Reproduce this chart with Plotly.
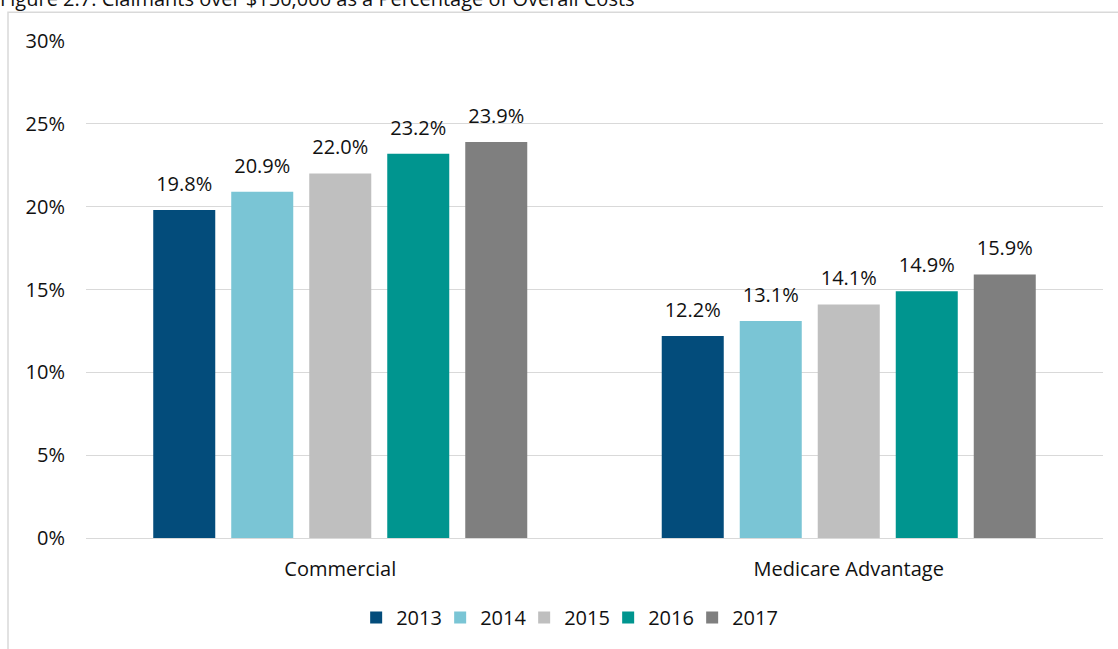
import plotly.graph_objects as go

categories = ["Commercial", "Medicare Advantage"]
years = ["2013", "2014", "2015", "2016", "2017"]
values = {
    "2013": [19.8, 12.2],
    "2014": [20.9, 13.1],
    "2015": [22.0, 14.1],
    "2016": [23.2, 14.9],
    "2017": [23.9, 15.9],
}
colors = ["#034C7B", "#7AC5D5", "#BFBFBF", "#00958F", "#7F7F7F"]
tick_vals = [0, 5, 10, 15, 20, 25, 30]
tick_text = ["0%", "5%", "10%", "15%", "20%", "25%", "30%"]
title_text = "Figure 2.7: Claimants over $150,000 as a Percentage of Overall Costs"

FONT = "Open Sans"
FS = 20
TXT = "#111111"

fig = go.Figure()
for i, (yr, col) in enumerate(zip(years, colors)):
    fig.add_trace(go.Bar(
        x=categories, y=values[yr], name=yr,
        marker=dict(color=col, line=dict(width=0)),
        offsetgroup=yr, legendgroup=yr, hoverinfo="skip",
        legendwidth=55 if i == len(years) - 1 else None,
    ))
for yr in years:
    fig.add_trace(go.Scatter(
        x=categories, y=values[yr], mode="markers+text",
        text=[f"{v:.1f}%" for v in values[yr]], textposition="top center",
        textfont=dict(family=FONT, size=FS, color=TXT),
        marker=dict(size=21, color="rgba(0,0,0,0)"),
        offsetgroup=yr, legendgroup=yr, showlegend=False, hoverinfo="skip",
        cliponaxis=False,
    ))

fig.update_layout(
    width=1118, height=649,
    margin=dict(l=86, r=15, t=41, b=109),
    paper_bgcolor="white", plot_bgcolor="white",
    barmode="group", bargap=0.233, bargroupgap=0.205,
    scattermode="group", scattergap=0.233,
    font=dict(family=FONT, size=FS, color=TXT),
    showlegend=True,
    legend=dict(orientation="h", x=0.48, xanchor="center", y=-0.16, yanchor="middle",
                font=dict(family=FONT, size=FS, color=TXT), itemclick=False,
                traceorder="normal", entrywidth=39, entrywidthmode="pixels"),
    xaxis=dict(showgrid=False, showline=False, ticks="", tickfont=dict(size=FS, color=TXT),
               ticklabelstandoff=17),
    yaxis=dict(range=[0, 30], tickvals=tick_vals, ticktext=tick_text, showgrid=True,
               gridcolor="#D9D9D9", gridwidth=1, zeroline=True, zerolinecolor="#D9D9D9",
               zerolinewidth=1, showline=False, ticks="", tickfont=dict(size=FS, color=TXT),
               ticklabelstandoff=20),
    shapes=[dict(type="rect", xref="paper", yref="paper",
                 x0=-0.0767, x1=1.05, y0=-0.4, y1=1.058,
                 line=dict(color="#D9D9D9", width=1.5), fillcolor="rgba(0,0,0,0)", layer="below")],
    annotations=[dict(text=title_text, xref="paper", yref="paper", x=-0.0865, y=1.0862,
                      xanchor="left", yanchor="middle", showarrow=False,
                      font=dict(family=FONT, size=FS, color=TXT))],
)

fig.write_html("out.html", config={"displayModeBar": False},
               post_script="document.body.style.margin='0px';")
